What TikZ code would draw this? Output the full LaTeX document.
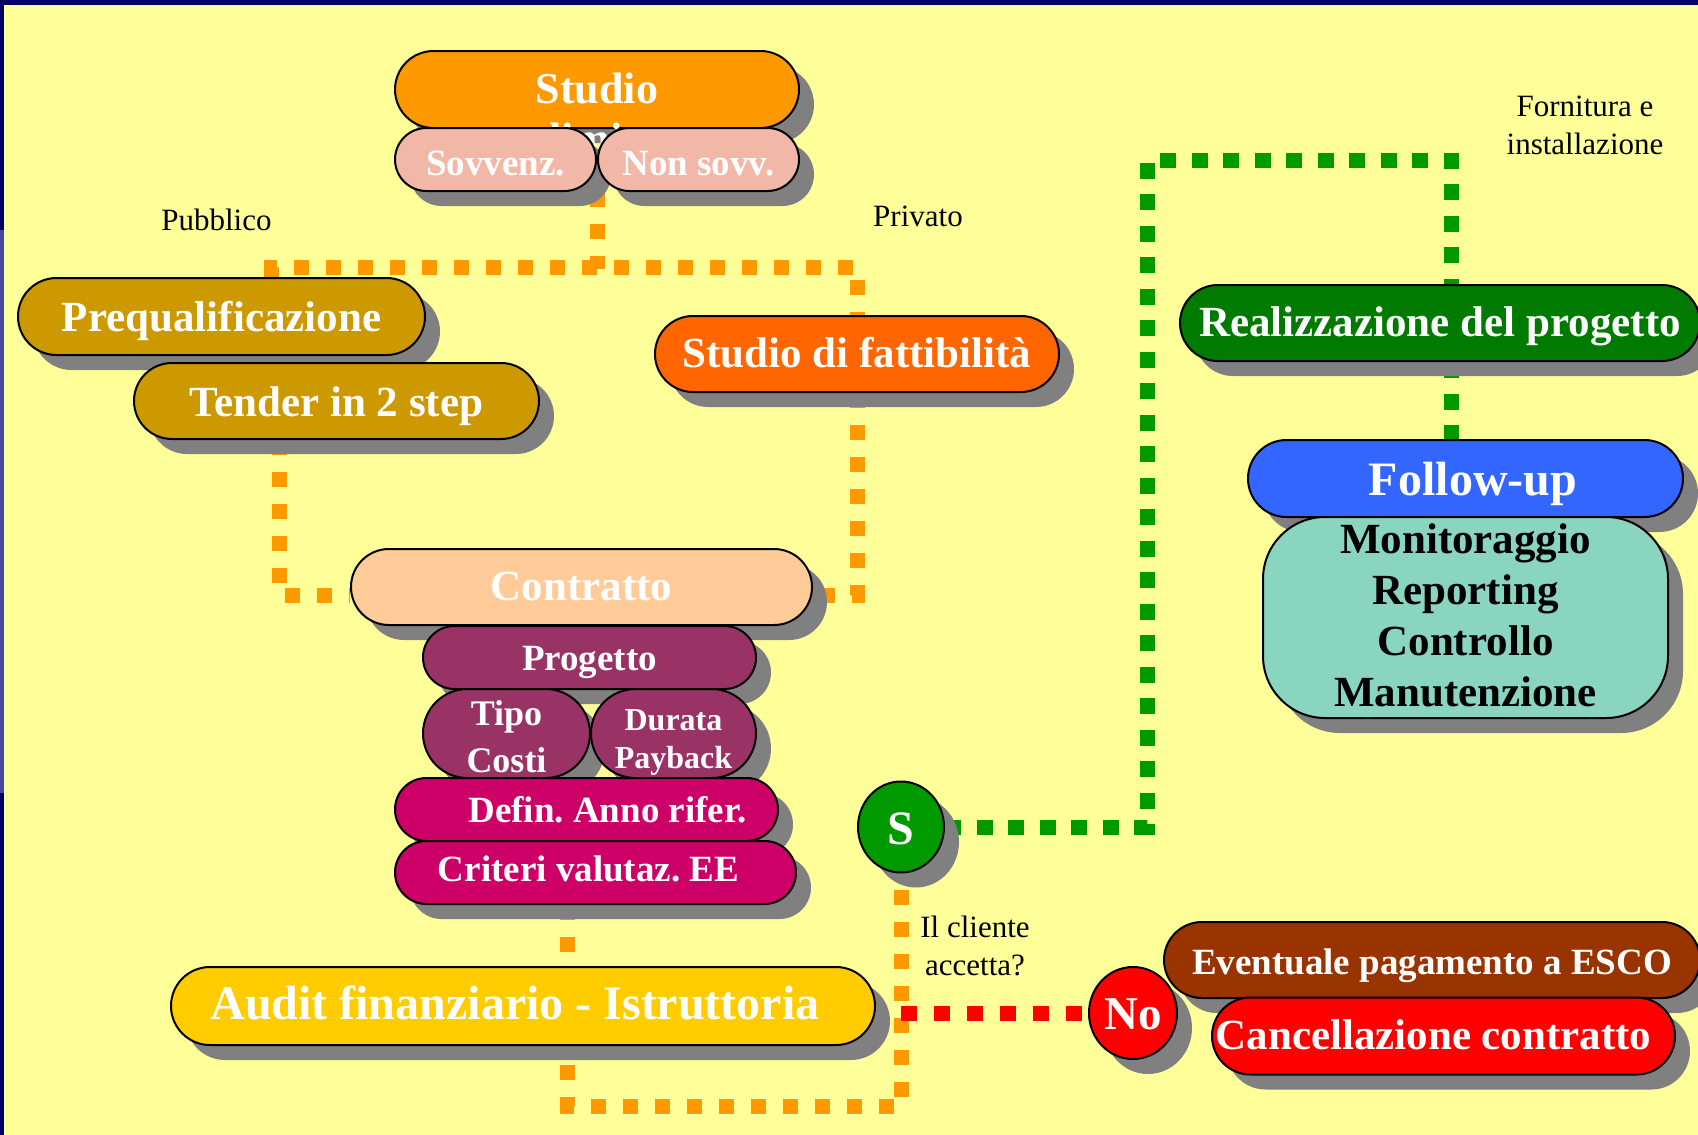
\documentclass[tikz,border=0pt]{standalone}
\usepackage{fontspec}
\setmainfont{Liberation Serif}
\usetikzlibrary{shapes.misc,shapes.geometric,shadows}
\pgfdeclarelayer{bg}
\pgfdeclarelayer{wires}
\pgfsetlayers{bg,wires,main}
\frenchspacing

\begin{document}
\begin{tikzpicture}[x=1pt,y=-1pt]
	\definecolor{paper}{RGB}{255,255,153}
	\definecolor{navy}{RGB}{0,0,102}
	\definecolor{navylight}{RGB}{72,72,160}
	\definecolor{shadowgray}{RGB}{128,128,128}
	\definecolor{studioorange}{RGB}{255,153,0}
	\definecolor{sovvpink}{RGB}{242,184,167}
	\definecolor{tenderbrown}{RGB}{204,153,0}
	\definecolor{fattorange}{RGB}{255,102,0}
	\definecolor{peach}{RGB}{255,204,153}
	\definecolor{plum}{RGB}{153,51,102}
	\definecolor{magenta}{RGB}{204,0,102}
	\definecolor{auditgold}{RGB}{255,204,0}
	\definecolor{sigreen}{RGB}{0,153,0}
	\definecolor{realgreen}{RGB}{0,122,0}
	\definecolor{escobrown}{RGB}{153,51,0}
	\definecolor{followblue}{RGB}{51,102,255}
	\definecolor{teal}{RGB}{138,213,192}

	\tikzstyle{pill} = [rounded rectangle, draw, line width=2pt, inner sep=0pt, text=white, drop shadow={shadow xshift=15pt,shadow yshift=-15pt,fill=shadowgray,opacity=1}]
	\tikzstyle{blob} = [ellipse, draw, line width=2pt, inner sep=0pt, text=white, drop shadow={shadow xshift=15pt,shadow yshift=-15pt,fill=shadowgray,opacity=1}]
	\tikzstyle{big} = [font=\fontsize{43}{50}\selectfont\bfseries, text height=30pt, text depth=0pt]
	\tikzstyle{mid} = [font=\fontsize{37}{43}\selectfont\bfseries, text height=26pt, text depth=0pt]
	\tikzstyle{lbl} = [inner sep=0pt, font=\fontsize{31}{38}\selectfont, align=center]
	\tikzstyle{orangelink} = [draw=studioorange, line width=15pt, dash pattern=on 15pt off 17pt]
	\tikzstyle{greenlink} = [draw=sigreen, line width=15pt, dash pattern=on 16pt off 15.5pt]
	\tikzstyle{redlink} = [draw=red, line width=15pt, dash pattern=on 16pt off 17pt]

	\useasboundingbox (0,0) rectangle (1698,1135);
	\begin{pgfonlayer}{bg}
	\fill[paper] (0,0) rectangle (1698,1135);
	\fill[navy] (0,0) rectangle (1698,5);
	\fill[navy] (0,0) rectangle (4,1135);
	\fill[navylight] (0,230) rectangle (4,793);
	\end{pgfonlayer}

	% NODES %
	\node[pill, fill=studioorange, font=\fontsize{44}{50}\selectfont\bfseries, text height=28pt, text depth=0pt, minimum width=404pt, minimum height=77pt] (studio) at (597,89.5) {Studio};
	\node[inner sep=0pt, anchor=base, text=white, font=\fontsize{44}{50}\selectfont\bfseries] (studiob) at (597,153) {preliminare};
	\node[pill, fill=sovvpink, mid, text height=31pt, minimum width=201pt, minimum height=63pt] (sovv) at (495.5,159.5) {Sovvenz.};
	\node[pill, fill=sovvpink, mid, text height=31pt, minimum width=201pt, minimum height=63pt] (nonsovv) at (698.5,159.5) {Non sovv.};

	\node[lbl, anchor=base] (pubblico) at (216.5,230) {Pubblico};
	\node[lbl, anchor=base] (privato) at (918,226) {Privato};

	\node[pill, fill=tenderbrown, big, minimum width=407pt, minimum height=77pt] (prequal) at (221.5,316.5) {Prequalificazione};
	\node[pill, fill=tenderbrown, big, minimum width=405pt, minimum height=76pt] (tender) at (336.5,401) {Tender in 2 step};
	\node[pill, fill=fattorange, big, text height=27pt, minimum width=404pt, minimum height=76pt] (fattib) at (857,354) {Studio di fattibilità};

	\node[pill, fill=peach, big, text height=26pt, minimum width=461pt, minimum height=76pt] (contratto) at (581.5,587) {Contratto};
	\node[pill, fill=plum, mid, minimum width=333pt, minimum height=63pt] (progetto) at (589.5,657.5) {Progetto};
	\node[pill, fill=plum, font=\fontsize{36}{47}\selectfont\bfseries, align=center, text height=77pt, text depth=0pt, minimum width=167pt, minimum height=89pt] (tipo) at (506.5,733.5) {Tipo\\Costi};
	\node[pill, fill=plum, font=\fontsize{32}{38}\selectfont\bfseries, align=center, text height=69pt, text depth=0pt, minimum width=165pt, minimum height=89pt] (durata) at (673.5,733.5) {Durata\\Payback};
	\node[pill, fill=magenta, mid, minimum width=383pt, minimum height=63pt] (defin) at (586.5,809.5) {\hspace*{42pt}Defin. Anno rifer.};
	\node[pill, fill=magenta, mid, text height=17pt, minimum width=401pt, minimum height=63pt] (criteri) at (595.5,872.5) {\hspace*{-14pt}Criteri valutaz. EE};
	\node[pill, fill=auditgold, font=\fontsize{48}{56}\selectfont\bfseries, text height=26pt, text depth=0pt, minimum width=704pt, minimum height=78pt] (audit) at (523,1006) {\hspace*{-16pt}Audit finanziario - Istruttoria};

	\node[blob, fill=sigreen, font=\fontsize{48}{56}\selectfont\bfseries, text height=34pt, text depth=0pt, minimum width=86pt, minimum height=91pt] (S) at (901,827) {S};
	\node[lbl, text height=38pt, text depth=0pt] (cliente) at (975,956) {Il cliente\\accetta?};

	\node[pill, fill=escobrown, mid, text height=28pt, minimum width=536pt, minimum height=76pt] (esco) at (1432,960) {Eventuale pagamento a ESCO};
	\node[pill, fill=red, big, text height=26pt, minimum width=463pt, minimum height=77pt] (cancel) at (1443.5,1036) {\hspace*{-20pt}Cancellazione contratto};
	\node[blob, fill=red, font=\fontsize{47}{56}\selectfont\bfseries, text height=33pt, text depth=0pt, minimum width=88pt, minimum height=92pt] (No) at (1133,1013) {No};

	\node[lbl, text height=38pt, text depth=0pt] (fornitura) at (1585,135) {Fornitura e\\installazione};
	\node[pill, fill=realgreen, big, text height=26pt, minimum width=520pt, minimum height=76pt] (realiz) at (1440,323) {Realizzazione del progetto};
	\node[pill, fill=followblue, font=\fontsize{48}{56}\selectfont\bfseries, text height=34pt, text depth=0pt, minimum width=435pt, minimum height=77pt] (follow) at (1465.5,478.5) {\hspace*{15pt}Follow-up};
	\node[draw, line width=2pt, rounded corners=62pt, fill=teal, inner sep=0pt, drop shadow={shadow xshift=15pt,shadow yshift=-15pt,fill=shadowgray,opacity=1}, font=\fontsize{43}{51}\selectfont\bfseries, align=center, text height=177pt, text depth=0pt, minimum width=405pt, minimum height=201pt] (monitor) at (1465.5,617.5) {Monitoraggio\\Reporting\\Controllo\\Manutenzione};

	\coordinate (gA) at (1147,160);
	\coordinate (gB) at (1451,160);

	% EDGES %
	\begin{pgfonlayer}{wires}
	%studio -> pubblico / privato
	\draw[orangelink] (sovv.east |- sovv.south) -- ++(0,77);
	\draw[orangelink] ([xshift=50pt]prequal.north) -- ++(0,-10) -| (fattib.north);
	%contratto
	\draw[orangelink] ([xshift=-57pt]tender.south) |- ([yshift=-8pt]contratto.west);
	\draw[orangelink] (fattib.south) |- ([yshift=-8pt]contratto.east);
	%il cliente accetta?
	\draw[orangelink] ([xshift=-28pt]criteri.south) -- ++(0,201) -| (S.south);
	\draw[redlink] (S.south |- No.west) -- (No.west);
	\draw[greenlink] (S.east) -| (gA) -- (gB) -- (realiz.north -| gB);
	\draw[greenlink] (realiz.south -| gB) -- (follow.north -| gB);
	\end{pgfonlayer}
\end{tikzpicture}
\end{document}
